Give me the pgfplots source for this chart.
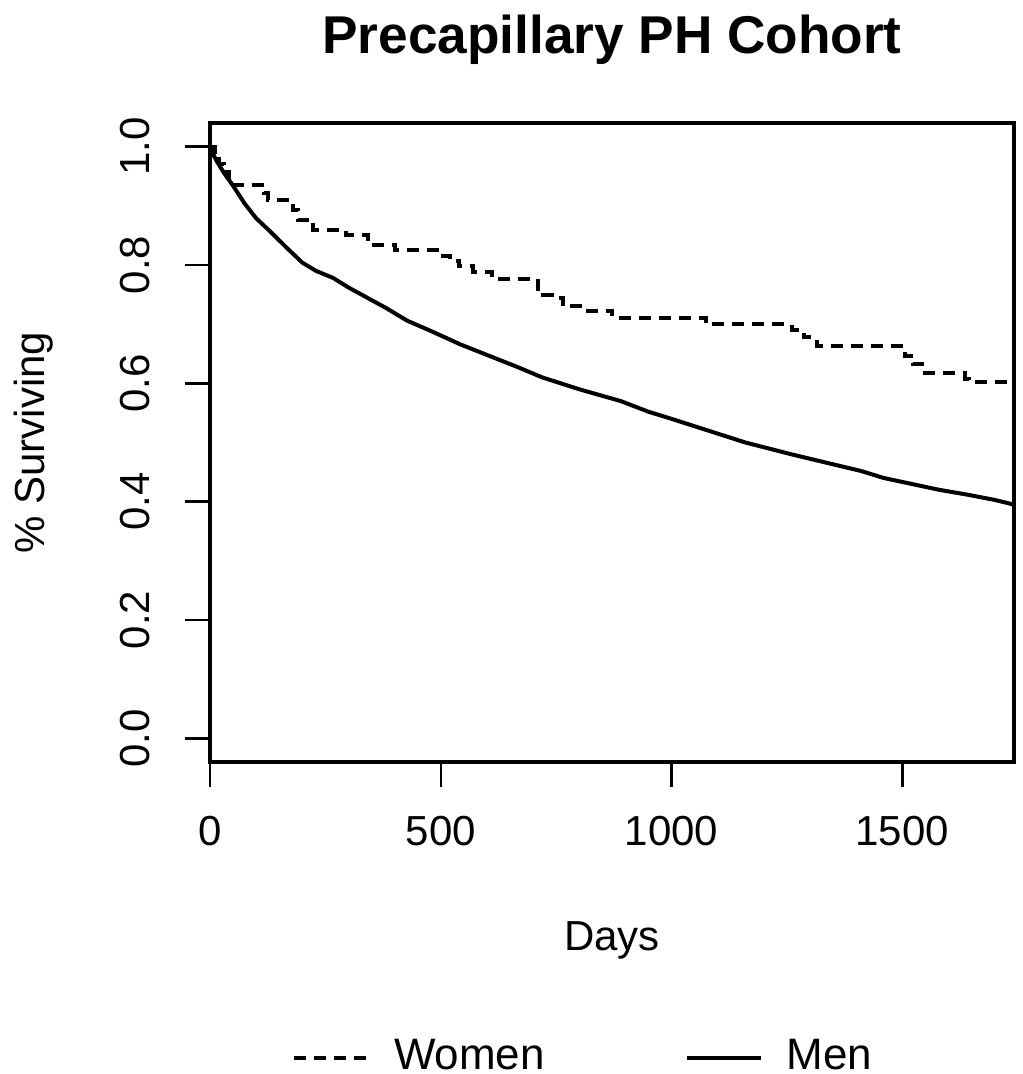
\documentclass[border=0pt]{standalone}
\usepackage{fontspec}
\setmainfont{Liberation Sans}
\usepackage{pgfplots}
\pgfplotsset{compat=1.18}

\begin{document}
\begin{tikzpicture}
\begin{axis}[
    name=ax,
    scale only axis,
    width=201pt, height=159.75pt,
    xmin=0, xmax=1742,
    ymin=-0.04, ymax=1.04,
    xtick={0,500,1000,1500},
    ytick={0,0.2,0.4,0.6,0.8,1.0},
    yticklabels={0.0,0.2,0.4,0.6,0.8,1.0},
    scaled x ticks=false,
    /pgf/number format/assume math mode=true,
    /pgf/number format/1000 sep={},
    tick align=outside,
    xtick pos=left, ytick pos=left,
    major tick length=6.25pt,
    axis line style={line width=0.8pt},
    every tick/.style={black, line width=0.6pt},
    tick label style={font=\fontsize{10.5}{12}\selectfont},
    xticklabel style={inner sep=0pt, yshift=-7pt},
    yticklabel style={rotate=90, anchor=south, inner sep=0pt, yshift=8.5pt},
    xlabel={Days},
    ylabel={\% Surviving},
    label style={font=\fontsize{10.5}{12}\selectfont},
    xlabel style={at={(axis description cs:0.5,-0.2786)}, anchor=center},
    ylabel style={at={(axis description cs:-0.219,0.5)}, anchor=center},
    every axis title shift=0pt,
    title={\bfseries Precapillary PH Cohort},
    title style={font=\fontsize{13.3}{15}\selectfont, at={(axis description cs:0.5,1.13)}, anchor=center},
    legend columns=2,
    legend style={draw=none, fill=none, at={(0.468,-0.463)}, anchor=center,
        font=\fontsize{11}{13}\selectfont,
        /tikz/every even column/.append style={column sep=33pt}},
    legend image code/.code={\draw[#1] (0pt,0pt) -- (18.5pt,0pt); \path (22.5pt,0pt);},
]
% Women (dashed step curve)
\addplot[const plot, black, line width=1pt, dash pattern=on 3pt off 2pt] coordinates {
    (0,1.0) (10,0.985) (20,0.97) (30,0.958) (42,0.945) (50,0.935)
    (118,0.922) (125,0.91) (180,0.893) (190,0.876) (224,0.86)
    (295,0.851) (342,0.834) (400,0.826) (505,0.815) (520,0.807)
    (540,0.798) (570,0.788) (610,0.777) (710,0.76) (722,0.75)
    (755,0.745) (765,0.73) (818,0.722) (872,0.711) (1075,0.70)
    (1261,0.69) (1286,0.678) (1315,0.663) (1506,0.647) (1524,0.632)
    (1550,0.617) (1636,0.607) (1645,0.602) (1742,0.602)
};
\addlegendentry{Women}
% Men (solid curve)
\addplot[black, line width=1pt] coordinates {
    (0,1.0) (5,0.99) (15,0.975) (30,0.956) (50,0.934) (75,0.904)
    (100,0.879) (130,0.857) (165,0.83) (200,0.804) (230,0.79) (267,0.778)
    (300,0.762) (340,0.745) (380,0.728) (427,0.706) (480,0.688)
    (542,0.666) (600,0.648) (665,0.628) (720,0.61) (800,0.59)
    (890,0.57) (950,0.552) (1000,0.54) (1080,0.52) (1160,0.50)
    (1260,0.48) (1340,0.465) (1410,0.452) (1460,0.44) (1520,0.43)
    (1580,0.42) (1640,0.412) (1700,0.403) (1742,0.395)
};
\addlegendentry{Men}
\end{axis}
\pgfresetboundingbox
\path ([shift={(-52.5pt,-78pt)}]ax.south west) rectangle ([shift={(2pt,30.75pt)}]ax.north east);
\end{tikzpicture}
\end{document}
